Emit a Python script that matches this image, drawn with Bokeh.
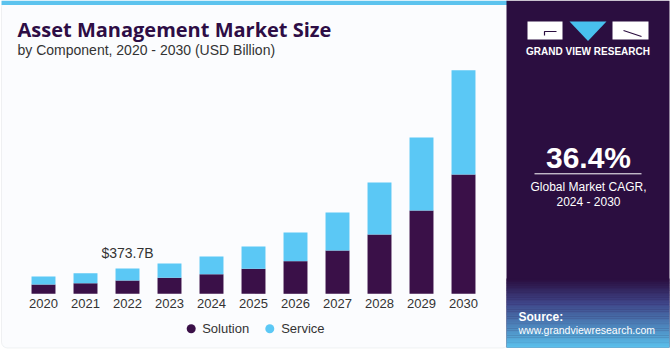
import numpy as np
from bokeh.plotting import figure
from bokeh.models import Range1d, ColumnDataSource, BoxAnnotation
from bokeh.core.properties import value
from bokeh.embed import file_html
from bokeh.resources import INLINE

# ---------------- data ----------------
years = ["2020", "2021", "2022", "2023", "2024", "2025", "2026", "2027", "2028", "2029", "2030"]
solution = [137, 157, 196, 236, 290, 369, 482, 640, 876, 1230, 1762]
service = [118, 147, 178, 211, 261, 330, 424, 561, 768, 1078, 1540]
highlight_year = "2022"
highlight_label = "$373.7B"
series_names = ["Solution", "Service"]
cagr_text = "36.4%"
cagr_caption = ["Global Market CAGR,", "2024 - 2030"]

DARK = "#3a1048"
LIGHT = "#5bc8f5"
PANEL = "#2b0e40"
FONT = "Liberation Sans"

W, H = 671, 350
xs = list(range(len(years)))
totals = [a + b for a, b in zip(solution, service)]

# scales: 42 px per category, first category centred at 43 px; baseline at 293.3 px
px_per_cat = 42.0
x0 = -43.0 / px_per_cat
x1 = x0 + W / px_per_cat
b_per_px = 14.77
base_px_from_bottom = H - 293.3
y0 = -base_px_from_bottom * b_per_px
y1 = y0 + H * b_per_px

p = figure(width=W, height=H, x_range=Range1d(x0, x1), y_range=Range1d(y0, y1),
           output_backend="svg", toolbar_location=None, min_border=0,
           x_axis_location=None, y_axis_location=None, tools="")
p.outline_line_color = None
p.background_fill_color = "white"
p.border_fill_color = "white"
p.xgrid.visible = False
p.ygrid.visible = False
p.extra_x_ranges = {"px": Range1d(0, W)}
p.extra_y_ranges = {"px": Range1d(H, 0)}

PX = dict(x_range_name="px", y_range_name="px")

# left panel background with border
bg = BoxAnnotation(left=1, right=508, top=1, bottom=347.5, fill_color="#f5f8fc",
                   line_color="#cfd3d8", line_width=1, border_radius=6,
                   level="underlay", **PX)
p.add_layout(bg)
# top accent bar
p.quad(left=[1], right=[507], top=[0], bottom=[4.5], fill_color="#5cc3ee", line_color=None, **PX)

# right panel
p.quad(left=[506], right=[669], top=[0], bottom=[347], fill_color=PANEL, line_color=None, **PX)
# bottom gradient of right panel
n = 40
ys = np.linspace(278, 347, n + 1)
c_top = np.array([0x2b, 0x0e, 0x40])
c_mid = np.array([0x3f, 0x45, 0x88])
c_bot = np.array([0x5a, 0xbe, 0xea])
cols = []
for i in range(n):
    t = i / (n - 1)
    if t < 0.35:
        c = c_top + (c_mid - c_top) * (t / 0.35)
    else:
        c = c_mid + (c_bot - c_mid) * ((t - 0.35) / 0.65)
    cols.append("#%02x%02x%02x" % tuple(int(v) for v in c))
p.quad(left=[506] * n, right=[669] * n, top=list(ys[:-1]), bottom=list(ys[1:] + 0.3),
       fill_color=cols, line_color=None, **PX)

# logo
p.quad(left=[527, 612], right=[562, 648], top=[21, 21], bottom=[39, 39],
       fill_color="white", line_color=None, **PX)
p.patch(x=[569, 606, 587.5], y=[21, 21, 40.5], fill_color="#48c0ee", line_color=None, **PX)
p.multi_line(xs=[[556, 544, 544], [623, 641]], ys=[[31, 31, 35], [30, 36]],
             line_color=PANEL, line_width=1.2, **PX)
p.text(x=[587.5], y=[50.5], text=["GRAND VIEW RESEARCH"], text_font=value(FONT),
       text_font_style="bold", text_font_size="10px", text_color="white",
       text_align="center", text_baseline="middle", **PX)

# CAGR block
p.text(x=[588], y=[157], text=[cagr_text], text_font=value(FONT), text_font_style="bold",
       text_font_size="30px", text_color="white", text_align="center",
       text_baseline="middle", **PX)
p.segment(x0=[534], x1=[641], y0=[173.3], y1=[173.3], line_color="white", line_width=1, **PX)
p.text(x=[588, 588], y=[186, 201.5], text=cagr_caption, text_font=value(FONT),
       text_font_size="12px", text_color="white", text_align="center",
       text_baseline="middle", **PX)

# source
p.text(x=[518], y=[316], text=["Source:"], text_font=value(FONT), text_font_style="bold",
       text_font_size="12px", text_color="white", text_align="left",
       text_baseline="middle", **PX)
p.text(x=[518], y=[329.5], text=["www.grandviewresearch.com"], text_font=value(FONT),
       text_font_size="10.5px", text_color="white", text_align="left",
       text_baseline="middle", **PX)

# title
p.text(x=[17], y=[29], text=["Asset Management Market Size"], text_font=value("Open Sans"),
       text_font_style="bold", text_font_size="20px", text_color="#2d0d45",
       text_align="left", text_baseline="middle", **PX)
p.text(x=[17], y=[49.5], text=["by Component, 2020 - 2030 (USD Billion)"], text_font=value(FONT),
       text_font_size="14px", text_color="#333333", text_align="left",
       text_baseline="middle", **PX)

# bars
src = ColumnDataSource(dict(x=xs, Solution=solution, Service=service, year=years))
p.vbar_stack(series_names, x="x", width=0.57, source=src, color=[DARK, LIGHT], line_color=None)

# highlight label
hi = years.index(highlight_year)
p.text(x=[xs[hi]], y=[totals[hi]], text=[highlight_label], text_font=value(FONT),
       text_font_size="14px", text_color="#333333", text_align="center",
       text_baseline="middle", y_offset=-15)

# year labels
p.text(x=xs, y=[303] * len(xs), text=years, text_font=value(FONT), text_font_size="13px",
       text_color="#333333", text_align="center", text_baseline="middle", y_range_name="px")

# legend
p.scatter(x=[190.7, 269.3], y=[328.3, 328.3], size=9, marker="circle",
          fill_color=[DARK, LIGHT], line_color=None, **PX)
p.text(x=[201.7, 280.7], y=[328.3, 328.3], text=series_names, text_font=value(FONT),
       text_font_size="13px", text_color="#333333", text_align="left",
       text_baseline="middle", **PX)

open("out.html", "w").write(file_html(p, INLINE))
